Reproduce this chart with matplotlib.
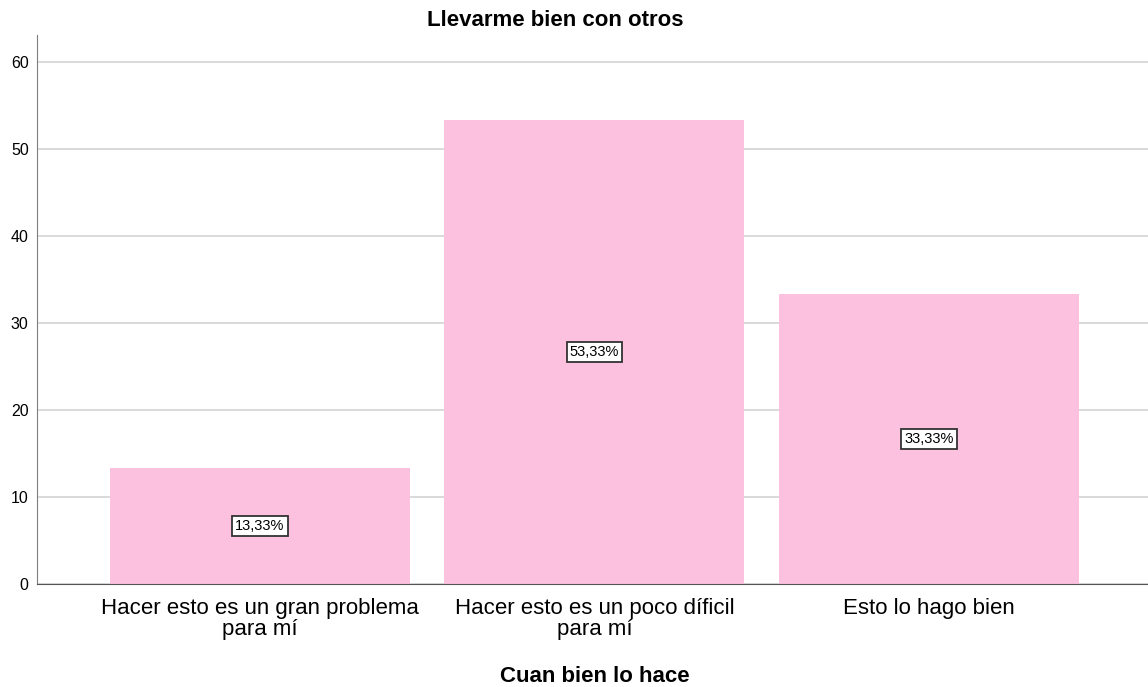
import matplotlib.pyplot as plt

# datos del gráfico
categorias = ['Hacer esto es un gran problema\npara mí',
              'Hacer esto es un poco díficil\npara mí',
              'Esto lo hago bien']
porcentajes = [13.33, 53.33, 33.33]
yticks = [0, 10, 20, 30, 40, 50, 60]

plt.rcParams['font.family'] = ['Liberation Sans', 'DejaVu Sans']

fig = plt.figure(figsize=(11.48, 6.87), dpi=100)
ax = fig.add_axes([0.0322, 0.150, 0.9678, 0.799])

x = list(range(len(categorias)))
ax.bar(x, porcentajes, width=0.897, color='#FDC1E0', zorder=2)

# etiquetas en el centro de cada barra
for xi, v in zip(x, porcentajes):
    ax.text(xi, v / 2, f'{v:.2f}%'.replace('.', ','), ha='center', va='center',
            fontsize=10.5, zorder=3,
            bbox=dict(boxstyle='square,pad=0.2', fc='white', ec='#333333', lw=1.3))

ax.set_xlim(-0.667, 2.655)
ax.set_ylim(0, 63.1)
ax.set_yticks(yticks)
ax.set_xticks(x)
ax.set_xticklabels(categorias, fontsize=16)
for t in ax.get_xticklabels():
    t.set_linespacing(1.0)
ax.tick_params(axis='y', labelsize=11.5, length=0, pad=6)
ax.tick_params(axis='x', length=0, pad=10)
ax.yaxis.grid(True, color='#D3D3D3', lw=1.2, zorder=0)
ax.set_axisbelow(True)

for s in ['top', 'right']:
    ax.spines[s].set_visible(False)
ax.spines['left'].set_color('#7f7f7f')
ax.spines['bottom'].set_color('#555555')

fig.text(555 / 1148, 1 - 21 / 687, 'Llevarme bien con otros', fontsize=16,
         fontweight='bold', ha='center', va='center')
fig.text(595 / 1148, 1 - 677 / 687, 'Cuan bien lo hace', fontsize=16,
         fontweight='bold', ha='center', va='center')

fig.savefig('out.png', dpi=100)
